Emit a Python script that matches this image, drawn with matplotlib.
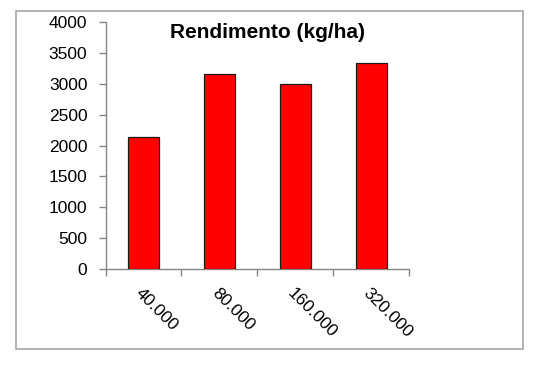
import numpy as np
import matplotlib
matplotlib.use('Agg')
import matplotlib.pyplot as plt
from matplotlib.patches import Rectangle

# datos
categorias = ['40.000', '80.000', '160.000', '320.000']
rendimiento = [2140, 3155, 3000, 3335]
titulo = 'Rendimento (kg/ha)'

plt.rcParams['font.family'] = ['Liberation Sans', 'DejaVu Sans']

fig = plt.figure(figsize=(5.44, 3.70), dpi=100)
fig.patch.set_facecolor('white')
# marco gris alrededor del grafico
fig.patches.append(Rectangle((16/544, 1-349/370), (523-16)/544, (349-11)/370,
                             transform=fig.transFigure, fill=False,
                             edgecolor='#a6a6a6', linewidth=1.2))

ax = fig.add_axes([0.194, 0.273, 0.558, 0.6675])
x = np.arange(len(categorias))
ax.bar(x, rendimiento, width=0.41, color='#ff0000', edgecolor='#1a1a1a', linewidth=0.9, zorder=3)

ax.set_xlim(-0.5, len(categorias) - 0.5)
ax.set_ylim(0, 4000)
ax.set_yticks(np.arange(0, 4001, 500))
ax.tick_params(axis='y', labelsize=12.5, length=5, color='#868686', width=1, pad=8)

ax.set_xticks(x)
ax.set_xticklabels(categorias, rotation=-45, ha='left', va='top', rotation_mode='anchor', fontsize=12.5)
ax.tick_params(axis='x', which='major', length=0, pad=12)
ax.set_xticks(np.arange(-0.5, len(categorias), 1.0), minor=True)
ax.tick_params(axis='x', which='minor', length=5, color='#868686', width=1)

for s in ['top', 'right']:
    ax.spines[s].set_visible(False)
for s in ['left', 'bottom']:
    ax.spines[s].set_color('#868686')
    ax.spines[s].set_linewidth(1)

fig.text(268/544, 1-33/370, titulo, ha='center', va='center', fontsize=15, fontweight='bold')

fig.savefig('out.png', dpi=100)
